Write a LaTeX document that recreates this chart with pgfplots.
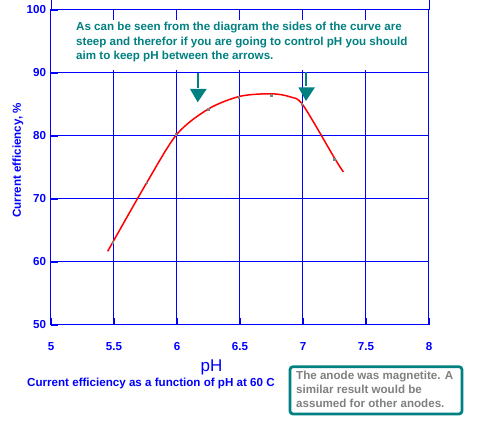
\documentclass[border=0pt]{standalone}
\usepackage{pgfplots}
\pgfplotsset{compat=1.18}
\usepackage{fontspec}
\setmainfont{Liberation Sans}
\definecolor{tealc}{RGB}{0,128,128}
\definecolor{grayc}{RGB}{128,128,128}
\newcommand{\lab}{\bfseries\fontsize{11.6}{14}\selectfont}
\begin{document}
\begin{tikzpicture}[x=1pt,y=1pt]
\useasboundingbox (0,0) rectangle (488,428);
\begin{axis}[
    at={(51pt,103pt)}, anchor=south west,
    scale only axis, width=378pt, height=315pt,
    xmin=5, xmax=8, ymin=50, ymax=100,
    xtick={5,5.5,6,6.5,7,7.5,8},
    ytick={50,60,70,80,90,100},
    grid=major,
    grid style={blue, line width=1pt},
    axis line style={blue, line width=1pt},
    tick style={blue, line width=2pt},
    major tick length=7pt,
    tick align=inside,
    tick pos=left,
    /pgf/number format/assume math mode=true,
    ticklabel style={font=\lab, text=blue},
    xticklabel style={yshift=-13.5pt},
    yticklabel style={xshift=-1.5pt},
    clip=false,
]
% Messpunkte (grau)
\addplot[only marks, mark=square*, mark size=0.9pt, color=grayc] coordinates {
    (5.49,63.1) (5.76,72.6) (5.99,80.3) (6.25,84.3)
    (6.49,86.2) (6.75,86.5) (6.99,85.0) (7.25,76.3)
};
% Kurve
\addplot[color=red, line width=1.5pt, smooth, tension=0.5] coordinates {
    (5.45,61.7)
    (5.76,72.6)
    (6.00,80.3)
    (6.25,84.3)
    (6.50,86.3)
    (6.75,86.7)
    (6.90,86.2)
    (7.00,84.9)
    (7.25,76.5)
    (7.32,74.3)
};
\end{axis}

% Rahmen oben verlaengert
\draw[blue, line width=1pt] (51,418) -- (51,428);
\draw[blue, line width=1pt] (429,418) -- (429,428);

% Textfeld oben
\fill[white] (53,358) rectangle (427,408);
\node[anchor=base west, inner sep=0, text=tealc, font=\lab] at (76,397)
    {As can be seen from the diagram the sides of the curve are};
\node[anchor=base west, inner sep=0, text=tealc, font=\lab] at (76,382.5)
    {steep and therefor if you are going to control pH you should};
\node[anchor=base west, inner sep=0, text=tealc, font=\lab] at (76,368)
    {aim to keep pH between the arrows.};

% Pfeile
\draw[tealc, line width=2pt] (197.7,354.7) -- (197.7,340);
\fill[tealc] (190,339) -- (206.7,339) -- (197.7,325.7) -- cycle;
\draw[tealc, line width=2pt] (306,355.7) -- (306,341.7);
\fill[tealc] (298.3,340.7) -- (315,340.7) -- (306,327) -- cycle;

% Achsentitel
\node[rotate=90, anchor=center, inner sep=0, text=blue, font=\lab] at (18,267.5)
    {Current efficiency, \%};
\node[anchor=base, inner sep=0, text=blue, font=\fontsize{17}{20}\selectfont] at (211.5,56.3) {pH};
\node[anchor=base west, inner sep=0, text=blue, font=\lab] at (27,41.3)
    {Current efficiency as a function of pH at 60 C};

% Hinweis
\draw[tealc, line width=2.7pt, rounded corners=3pt, fill=white] (290,61.3) rectangle (462,14);
\node[anchor=base west, inner sep=0, text=grayc, font=\lab] at (296,48)
    {The anode was magnetite. A};
\node[anchor=base west, inner sep=0, text=grayc, font=\lab] at (296,34)
    {similar result would be};
\node[anchor=base west, inner sep=0, text=grayc, font=\lab] at (296,20.3)
    {assumed for other anodes.};
\end{tikzpicture}
\end{document}
